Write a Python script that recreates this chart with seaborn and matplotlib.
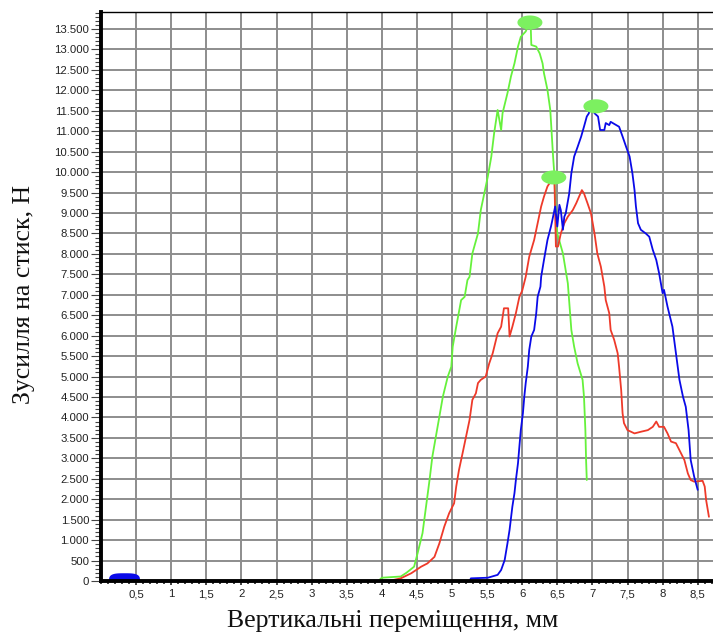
import numpy as np
import pandas as pd
import matplotlib
matplotlib.use("Agg")
import matplotlib.pyplot as plt
from matplotlib.ticker import MultipleLocator, FuncFormatter
from matplotlib.path import Path
import seaborn as sns

# ---------------- data ----------------
green_x = [0.0, 3.95, 4.0, 4.27, 4.35, 4.46, 4.51, 4.58, 4.63, 4.68, 4.72, 4.77, 4.82, 4.87,
           4.94, 4.99, 5.01, 5.06, 5.13, 5.18, 5.22, 5.25, 5.29, 5.37, 5.41, 5.46, 5.51, 5.56,
           5.60, 5.65, 5.70, 5.72, 5.79, 5.84, 5.89, 5.94, 5.98, 6.05, 6.10, 6.12, 6.13, 6.20,
           6.25, 6.29, 6.31, 6.36, 6.40, 6.42, 6.44, 6.46, 6.47, 6.50, 6.58, 6.65, 6.70, 6.74,
           6.79, 6.86, 6.88, 6.90, 6.91, 6.92]
green_y = [0, 0, 80, 110, 200, 350, 680, 1170, 1820, 2470, 3040, 3530, 4020, 4510,
           5000, 5240, 5730, 6220, 6870, 6950, 7360, 7440, 8010, 8500, 9070, 9480, 9890, 10380,
           10950, 11520, 11030, 11440, 11930, 12340, 12660, 13070, 13310, 13440, 13640, 13640, 13110, 13070,
           12900, 12660, 12420, 12010, 11520, 10950, 10380, 9890, 9320, 8500, 8010, 7280, 6140, 5730,
           5320, 4920, 4510, 3690, 2960, 2470]

red_x = [0.0, 4.1, 4.27, 4.42, 4.56, 4.65, 4.75, 4.82, 4.89, 4.96, 5.03, 5.06, 5.10, 5.15,
         5.20, 5.25, 5.29, 5.34, 5.37, 5.41, 5.48, 5.53, 5.58, 5.65, 5.70, 5.74, 5.80, 5.82,
         5.86, 5.91, 5.96, 6.00, 6.05, 6.10, 6.17, 6.22, 6.27, 6.31, 6.36, 6.39, 6.46, 6.48,
         6.51, 6.55, 6.60, 6.65, 6.72, 6.77, 6.81, 6.85, 6.88, 6.93, 6.98, 7.03, 7.07, 7.12,
         7.17, 7.19, 7.24, 7.26, 7.31, 7.36, 7.38, 7.41, 7.43, 7.45, 7.50, 7.60, 7.69, 7.79,
         7.86, 7.91, 7.95, 8.02, 8.07, 8.12, 8.19, 8.24, 8.31, 8.36, 8.40, 8.45, 8.57, 8.60,
         8.62, 8.66]
red_y = [0, 0, 65, 190, 350, 430, 590, 920, 1330, 1660, 1900, 2310, 2720, 3120,
         3530, 3940, 4430, 4590, 4840, 4920, 5000, 5320, 5570, 6060, 6220, 6670, 6670, 5980,
         6220, 6550, 6950, 7100, 7440, 7930, 8340, 8750, 9160, 9400, 9650, 9730, 9730, 8180,
         8180, 8500, 8750, 8910, 9070, 9240, 9400, 9560, 9480, 9240, 8990, 8500, 8010, 7690,
         7200, 6870, 6550, 6140, 5900, 5570, 5240, 4670, 4100, 3860, 3690, 3610, 3650, 3690,
         3770, 3900, 3770, 3770, 3610, 3410, 3370, 3200, 2960, 2630, 2470, 2430, 2450, 2310,
         1980, 1570]

blue_x = [0.03, 5.25, 5.27, 5.51, 5.65, 5.70, 5.75, 5.79, 5.82, 5.86, 5.89, 5.91, 5.94, 5.96,
          5.98, 6.01, 6.03, 6.05, 6.08, 6.10, 6.13, 6.17, 6.20, 6.22, 6.26, 6.27, 6.31, 6.36,
          6.41, 6.43, 6.47, 6.50, 6.53, 6.55, 6.58, 6.60, 6.62, 6.67, 6.70, 6.74, 6.79, 6.84,
          6.88, 6.92, 6.95, 6.98, 7.03, 7.08, 7.11, 7.17, 7.19, 7.24, 7.26, 7.34, 7.38, 7.43,
          7.48, 7.53, 7.57, 7.60, 7.62, 7.65, 7.69, 7.76, 7.81, 7.86, 7.91, 7.95, 8.00, 8.02,
          8.07, 8.14, 8.19, 8.24, 8.29, 8.33, 8.37, 8.40, 8.45, 8.50]
blue_y = [0, 0, 65, 80, 150, 270, 510, 920, 1250, 1820, 2150, 2470, 2880, 3290,
          3690, 4100, 4510, 4840, 5240, 5650, 5980, 6140, 6550, 6950, 7200, 7440, 7850, 8340,
          8670, 8830, 9160, 8670, 9200, 9070, 8590, 8910, 8990, 9480, 9970, 10380, 10620, 10870,
          11110, 11360, 11440, 11690, 11440, 11360, 11030, 11030, 11200, 11150, 11230, 11150, 11110, 10870,
          10620, 10380, 9970, 9560, 9160, 8750, 8590, 8500, 8420, 8100, 7850, 7530, 7040, 7120,
          6710, 6220, 5570, 4920, 4510, 4260, 3690, 2960, 2550, 2230]

peak_x = [6.11, 6.45, 7.05]
peak_y = [13660, 9870, 11610]
start_x = [0.335]
start_y = [0]

x_tick_values = [0.5, 1, 1.5, 2, 2.5, 3, 3.5, 4, 4.5, 5, 5.5, 6, 6.5, 7, 7.5, 8, 8.5]

xlabel = "Вертикальні переміщення, мм"
ylabel = "Зусилля на стиск, Н"

# ---------------- figure ----------------
sns.set_theme(style="white")
plt.rcParams["font.family"] = ["Liberation Sans", "DejaVu Sans"]

W, H = 713, 635
fig = plt.figure(figsize=(W / 100, H / 100), dpi=100)
ax_left, ax_right, ax_bottom, ax_top = 101, 713, 581, 12
ax = fig.add_axes([ax_left / W, (H - ax_bottom) / H,
                   (ax_right - ax_left) / W, (ax_bottom - ax_top) / H])

GREEN = "#66f13c"
RED = "#ee3a2a"
BLUE = "#0a0ae8"
MARK = "#7cf060"

for xs, ys, col in [(green_x, green_y, GREEN), (red_x, red_y, RED), (blue_x, blue_y, BLUE)]:
    df = pd.DataFrame({"x": xs, "y": ys})
    sns.lineplot(data=df, x="x", y="y", ax=ax, color=col, lw=1.3, sort=False,
                 estimator=None, zorder=3)

# ellipse markers
t = np.linspace(0, 2 * np.pi, 80)
ell_peak = Path(np.column_stack([np.cos(t), 0.56 * np.sin(t)]))
ct, st = np.cos(t), np.sin(t)
sq_x = np.sign(ct) * np.abs(ct) ** 0.6
sq_y = np.sign(st) * np.abs(st) ** 0.6
ell_start = Path(np.column_stack([sq_x, 0.5 * sq_y]))
sns.scatterplot(x=peak_x, y=peak_y, ax=ax, marker=ell_peak, s=(25 * 0.72) ** 2,
                color=MARK, edgecolor="none", zorder=4)
sns.scatterplot(x=start_x, y=start_y, ax=ax, marker=ell_start, s=(31 * 0.72) ** 2,
                color=BLUE, edgecolor="none", zorder=2)

ax.set_xlim(0, (ax_right - ax_left) / 70.2)
ax.set_ylim(0, (ax_bottom - ax_top) * 24.457)

ax.set_xticks(x_tick_values)
ax.xaxis.set_minor_locator(MultipleLocator(0.1))
ax.yaxis.set_major_locator(MultipleLocator(500))
ax.yaxis.set_minor_locator(MultipleLocator(100))
ax.xaxis.set_major_formatter(FuncFormatter(lambda v, p: f"{v:g}".replace(".", ",")))
ax.yaxis.set_major_formatter(FuncFormatter(lambda v, p: f"{v:,.0f}".replace(",", ".")))

ax.grid(True, which="major", color="#8d8d8d", lw=1.4)
ax.set_axisbelow(True)

ax.tick_params(axis="y", which="major", length=7, width=0.8, color="#444444",
               labelsize=8.2, labelcolor="#222222", pad=1.5, left=True)
ax.tick_params(axis="y", which="minor", length=4.3, width=0.8, color="#444444", left=True)
ax.tick_params(axis="x", which="major", length=3, width=1.2, color="#222222",
               labelsize=8.2, labelcolor="#222222", pad=3, bottom=True)
ax.tick_params(axis="x", which="minor", length=2.2, width=1.2, color="#222222", bottom=True)

for side, lw in [("left", 2.8), ("bottom", 2.8), ("top", 1.0)]:
    ax.spines[side].set_visible(True)
    ax.spines[side].set_color("black")
    ax.spines[side].set_linewidth(lw)
    ax.spines[side].set_zorder(5)
ax.spines["right"].set_visible(False)

ax.set_xlabel(xlabel, family=["Liberation Serif", "DejaVu Serif"], fontsize=18.5, color="#111111")
ax.set_ylabel(ylabel, family=["Liberation Serif", "DejaVu Serif"], fontsize=18.5, color="#111111")
ax.xaxis.set_label_coords((393 - ax_left) / (ax_right - ax_left), (ax_bottom - 621) / (ax_bottom - ax_top))
ax.xaxis.label.set_va("center")
ax.yaxis.set_label_coords((24 - ax_left) / (ax_right - ax_left), (ax_bottom - 294) / (ax_bottom - ax_top))
ax.yaxis.label.set_va("center")

fig.savefig("out.png", dpi=100)
